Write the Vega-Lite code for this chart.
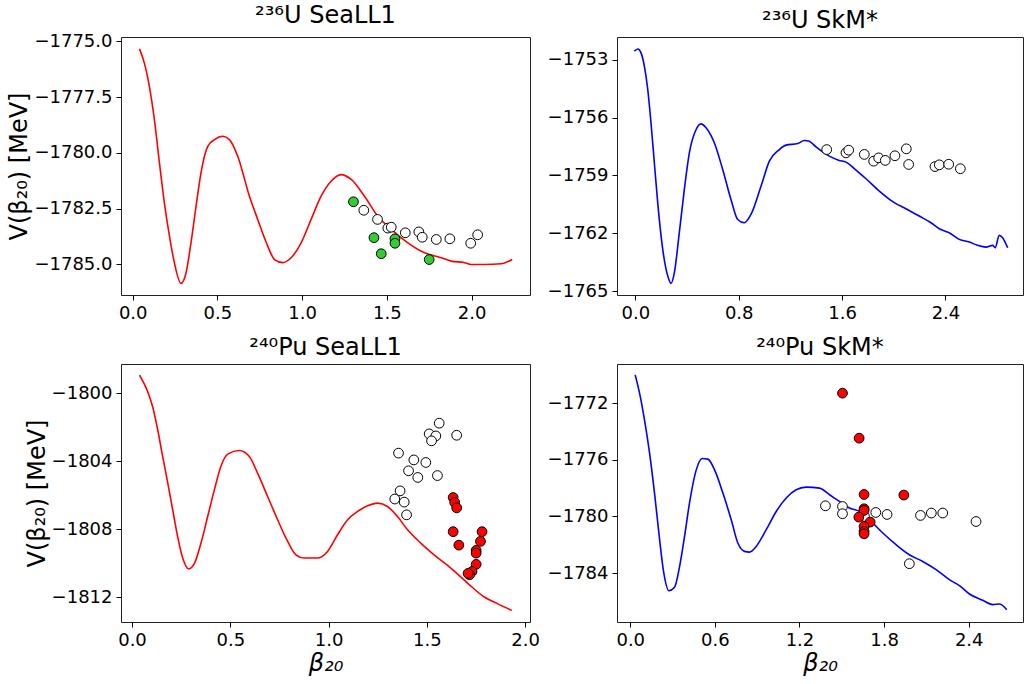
{
  "$schema": "https://vega.github.io/schema/vega-lite/v6.json",
  "background": "white",
  "padding": {"left": 7, "top": 3, "right": 0, "bottom": 0},
  "bounds": "flush",
  "columns": 2,
  "spacing": {"row": 69, "column": 87},
  "config": {
    "font": "DejaVu Sans",
    "view": {"stroke": "#222222", "strokeWidth": 1},
    "axis": {"grid": false, "domain": false, "tickColor": "black", "tickSize": 5, "tickWidth": 1, "labelFontSize": 18, "labelColor": "black", "labelFont": "DejaVu Sans", "titleFont": "DejaVu Sans", "titleFontSize": 24, "titleFontWeight": "normal", "titleColor": "black", "labelPadding": 4, "titlePadding": 2, "labelFlush": false, "labelOverlap": false, "labelExpr": "replace(datum.label, '-', '−')"},
    "title": {"fontSize": 24, "fontWeight": "normal", "font": "DejaVu Sans", "color": "black", "offset": 0},
    "legend": {"disable": true}
  },
  "datasets": {
    "l1": [
      {"b":0.04,"v":-1775.33},{"b":0.069,"v":-1775.97},{"b":0.098,"v":-1777.0},{"b":0.128,"v":-1778.5},{"b":0.158,"v":-1780.45},{"b":0.187,"v":-1782.24},{"b":0.217,"v":-1783.73},{"b":0.246,"v":-1784.92},{"b":0.285,"v":-1785.85},{"b":0.315,"v":-1785.37},{"b":0.344,"v":-1784.03},{"b":0.374,"v":-1782.39},{"b":0.403,"v":-1780.89},{"b":0.443,"v":-1779.7},{"b":0.483,"v":-1779.4},{"b":0.532,"v":-1779.25},{"b":0.571,"v":-1779.4},{"b":0.62,"v":-1780.15},{"b":0.689,"v":-1781.94},{"b":0.738,"v":-1782.98},{"b":0.797,"v":-1784.18},{"b":0.837,"v":-1784.78},{"b":0.886,"v":-1784.92},{"b":0.935,"v":-1784.7},{"b":0.994,"v":-1784.03},{"b":1.053,"v":-1782.98},{"b":1.112,"v":-1781.94},{"b":1.171,"v":-1781.27},{"b":1.23,"v":-1780.97},{"b":1.29,"v":-1781.19},{"b":1.368,"v":-1781.94},{"b":1.447,"v":-1782.84},{"b":1.526,"v":-1783.43},{"b":1.624,"v":-1784.03},{"b":1.723,"v":-1784.48},{"b":1.821,"v":-1784.7},{"b":1.88,"v":-1784.85},{"b":1.959,"v":-1784.92},{"b":1.998,"v":-1785.0},{"b":2.077,"v":-1785.0},{"b":2.175,"v":-1784.97},{"b":2.24,"v":-1784.78}
    ],
    "p1": [
      {"b":1.303,"v":-1782.19,"t":"green"},{"b":1.424,"v":-1783.8,"t":"green"},{"b":1.467,"v":-1784.52,"t":"green"},{"b":1.548,"v":-1783.85,"t":"green"},{"b":1.548,"v":-1784.05,"t":"green"},{"b":1.75,"v":-1784.78,"t":"green"},
      {"b":1.364,"v":-1782.57,"t":"open"},{"b":1.445,"v":-1782.98,"t":"open"},{"b":1.506,"v":-1783.37,"t":"open"},{"b":1.526,"v":-1783.33,"t":"open"},{"b":1.609,"v":-1783.58,"t":"open"},{"b":1.689,"v":-1783.54,"t":"open"},{"b":1.709,"v":-1783.78,"t":"open"},{"b":1.792,"v":-1783.88,"t":"open"},{"b":1.872,"v":-1783.85,"t":"open"},{"b":1.995,"v":-1784.05,"t":"open"},{"b":2.036,"v":-1783.67,"t":"open"}
    ],
    "l2": [
      {"b":-0.008,"v":-1752.57},{"b":0.019,"v":-1752.45},{"b":0.044,"v":-1752.65},{"b":0.07,"v":-1753.35},{"b":0.096,"v":-1754.55},{"b":0.121,"v":-1756.27},{"b":0.147,"v":-1758.34},{"b":0.173,"v":-1760.41},{"b":0.212,"v":-1762.83},{"b":0.251,"v":-1764.21},{"b":0.276,"v":-1764.59},{"b":0.302,"v":-1764.03},{"b":0.34,"v":-1761.97},{"b":0.379,"v":-1759.73},{"b":0.418,"v":-1757.83},{"b":0.47,"v":-1756.62},{"b":0.508,"v":-1756.33},{"b":0.547,"v":-1756.53},{"b":0.611,"v":-1757.31},{"b":0.676,"v":-1758.69},{"b":0.74,"v":-1760.24},{"b":0.792,"v":-1761.28},{"b":0.843,"v":-1761.45},{"b":0.895,"v":-1761.02},{"b":0.973,"v":-1759.55},{"b":1.037,"v":-1758.26},{"b":1.114,"v":-1757.66},{"b":1.166,"v":-1757.43},{"b":1.256,"v":-1757.35},{"b":1.308,"v":-1757.19},{"b":1.346,"v":-1757.23},{"b":1.398,"v":-1757.52},{"b":1.501,"v":-1758.0},{"b":1.578,"v":-1758.22},{"b":1.63,"v":-1758.31},{"b":1.708,"v":-1758.72},{"b":1.785,"v":-1759.17},{"b":1.888,"v":-1759.81},{"b":2.004,"v":-1760.41},{"b":2.094,"v":-1760.72},{"b":2.197,"v":-1761.1},{"b":2.288,"v":-1761.45},{"b":2.352,"v":-1761.76},{"b":2.429,"v":-1761.97},{"b":2.507,"v":-1762.31},{"b":2.584,"v":-1762.45},{"b":2.649,"v":-1762.62},{"b":2.713,"v":-1762.71},{"b":2.765,"v":-1762.62},{"b":2.785,"v":-1762.74},{"b":2.816,"v":-1762.1},{"b":2.842,"v":-1762.22},{"b":2.881,"v":-1762.74}
    ],
    "p2": [
      {"b":1.481,"v":-1757.66,"t":"open"},{"b":1.63,"v":-1757.83,"t":"open"},{"b":1.651,"v":-1757.69,"t":"open"},{"b":1.772,"v":-1757.91,"t":"open"},{"b":1.844,"v":-1758.26,"t":"open"},{"b":1.883,"v":-1758.09,"t":"open"},{"b":1.934,"v":-1758.22,"t":"open"},{"b":2.009,"v":-1757.98,"t":"open"},{"b":2.097,"v":-1757.62,"t":"open"},{"b":2.115,"v":-1758.43,"t":"open"},{"b":2.319,"v":-1758.54,"t":"open"},{"b":2.352,"v":-1758.45,"t":"open"},{"b":2.425,"v":-1758.42,"t":"open"},{"b":2.515,"v":-1758.65,"t":"open"}
    ],
    "l3": [
      {"b":0.038,"v":-1798.93},{"b":0.08,"v":-1799.91},{"b":0.105,"v":-1800.79},{"b":0.131,"v":-1802.16},{"b":0.156,"v":-1803.72},{"b":0.182,"v":-1805.28},{"b":0.207,"v":-1806.85},{"b":0.232,"v":-1808.42},{"b":0.258,"v":-1809.69},{"b":0.288,"v":-1810.33},{"b":0.317,"v":-1810.02},{"b":0.351,"v":-1808.81},{"b":0.385,"v":-1807.25},{"b":0.419,"v":-1805.68},{"b":0.452,"v":-1804.31},{"b":0.487,"v":-1803.58},{"b":0.546,"v":-1803.37},{"b":0.597,"v":-1803.72},{"b":0.639,"v":-1804.7},{"b":0.69,"v":-1806.07},{"b":0.741,"v":-1807.44},{"b":0.792,"v":-1808.71},{"b":0.834,"v":-1809.5},{"b":0.876,"v":-1809.69},{"b":0.944,"v":-1809.69},{"b":0.995,"v":-1809.3},{"b":1.046,"v":-1808.32},{"b":1.097,"v":-1807.44},{"b":1.148,"v":-1806.95},{"b":1.199,"v":-1806.62},{"b":1.249,"v":-1806.46},{"b":1.3,"v":-1806.66},{"b":1.351,"v":-1807.25},{"b":1.402,"v":-1808.03},{"b":1.469,"v":-1808.81},{"b":1.537,"v":-1809.5},{"b":1.622,"v":-1810.28},{"b":1.707,"v":-1811.16},{"b":1.792,"v":-1811.98},{"b":1.859,"v":-1812.37},{"b":1.932,"v":-1812.77}
    ],
    "p3": [
      {"b":1.356,"v":-1803.52,"t":"open"},{"b":1.434,"v":-1803.92,"t":"open"},{"b":1.495,"v":-1804.07,"t":"open"},{"b":1.407,"v":-1804.56,"t":"open"},{"b":1.454,"v":-1804.95,"t":"open"},{"b":1.554,"v":-1804.84,"t":"open"},{"b":1.512,"v":-1802.39,"t":"open"},{"b":1.546,"v":-1802.51,"t":"open"},{"b":1.524,"v":-1802.8,"t":"open"},{"b":1.563,"v":-1801.76,"t":"open"},{"b":1.652,"v":-1802.47,"t":"open"},{"b":1.364,"v":-1805.74,"t":"open"},{"b":1.337,"v":-1806.22,"t":"open"},{"b":1.385,"v":-1806.4,"t":"open"},{"b":1.397,"v":-1807.15,"t":"open"},
      {"b":1.634,"v":-1806.13,"t":"red"},{"b":1.642,"v":-1806.42,"t":"red"},{"b":1.652,"v":-1806.74,"t":"red"},{"b":1.634,"v":-1808.14,"t":"red"},{"b":1.663,"v":-1808.93,"t":"red"},{"b":1.781,"v":-1808.14,"t":"red"},{"b":1.773,"v":-1808.71,"t":"red"},{"b":1.751,"v":-1809.24,"t":"red"},{"b":1.751,"v":-1809.4,"t":"red"},{"b":1.751,"v":-1810.06,"t":"red"},{"b":1.73,"v":-1810.48,"t":"red"},{"b":1.718,"v":-1810.67,"t":"red"},{"b":1.71,"v":-1810.59,"t":"red"}
    ],
    "l4": [
      {"b":0.035,"v":-1770.0},{"b":0.071,"v":-1771.53},{"b":0.101,"v":-1773.18},{"b":0.137,"v":-1775.53},{"b":0.172,"v":-1778.35},{"b":0.203,"v":-1781.17},{"b":0.236,"v":-1783.88},{"b":0.274,"v":-1785.25},{"b":0.314,"v":-1785.01},{"b":0.35,"v":-1783.53},{"b":0.385,"v":-1781.41},{"b":0.42,"v":-1779.06},{"b":0.468,"v":-1776.71},{"b":0.51,"v":-1775.91},{"b":0.55,"v":-1775.95},{"b":0.598,"v":-1776.71},{"b":0.657,"v":-1778.35},{"b":0.716,"v":-1780.24},{"b":0.763,"v":-1781.88},{"b":0.81,"v":-1782.47},{"b":0.846,"v":-1782.52},{"b":0.893,"v":-1782.12},{"b":0.964,"v":-1780.94},{"b":1.035,"v":-1779.65},{"b":1.106,"v":-1778.7},{"b":1.176,"v":-1778.12},{"b":1.247,"v":-1777.93},{"b":1.342,"v":-1778.0},{"b":1.413,"v":-1778.47},{"b":1.483,"v":-1778.94},{"b":1.554,"v":-1779.41},{"b":1.625,"v":-1779.65},{"b":1.696,"v":-1780.24},{"b":1.791,"v":-1781.17},{"b":1.885,"v":-1782.0},{"b":1.979,"v":-1782.71},{"b":2.074,"v":-1783.18},{"b":2.169,"v":-1783.76},{"b":2.263,"v":-1784.47},{"b":2.334,"v":-1784.89},{"b":2.405,"v":-1785.48},{"b":2.5,"v":-1785.93},{"b":2.57,"v":-1786.23},{"b":2.617,"v":-1786.19},{"b":2.67,"v":-1786.59}
    ],
    "p4": [
      {"b":1.384,"v":-1779.25,"t":"open"},{"b":1.505,"v":-1779.3,"t":"open"},{"b":1.505,"v":-1779.81,"t":"open"},{"b":1.741,"v":-1779.72,"t":"open"},{"b":1.821,"v":-1779.86,"t":"open"},{"b":2.058,"v":-1779.93,"t":"open"},{"b":2.135,"v":-1779.76,"t":"open"},{"b":2.216,"v":-1779.76,"t":"open"},{"b":2.452,"v":-1780.36,"t":"open"},{"b":1.979,"v":-1783.34,"t":"open"},{"b":1.661,"v":-1780.0,"t":"open"},
      {"b":1.505,"v":-1771.29,"t":"red"},{"b":1.623,"v":-1774.47,"t":"red"},{"b":1.658,"v":-1778.45,"t":"red"},{"b":1.94,"v":-1778.49,"t":"red"},{"b":1.658,"v":-1779.46,"t":"red"},{"b":1.658,"v":-1779.58,"t":"red"},{"b":1.621,"v":-1780.05,"t":"red"},{"b":1.701,"v":-1780.4,"t":"red"},{"b":1.658,"v":-1780.71,"t":"red"},{"b":1.658,"v":-1781.06,"t":"red"},{"b":1.658,"v":-1781.23,"t":"red"}
    ]
  },
  "concat": [
    {
      "width": 409, "height": 258,
      "title": {"text": "²³⁶U SeaLL1"},
      "layer": [
        {"data": {"name": "l1"}, "mark": {"type": "line", "color": "#ff0000", "strokeWidth": 1.6, "interpolate": "monotone"},
         "encoding": {
           "x": {"field": "b", "type": "quantitative", "scale": {"domain": [-0.069, 2.345], "nice": false, "zero": false}, "axis": {"values": [0, 0.5, 1, 1.5, 2], "format": ".1f", "title": null}},
           "y": {"field": "v", "type": "quantitative", "scale": {"domain": [-1786.37, -1774.8], "nice": false, "zero": false}, "axis": {"values": [-1775, -1777.5, -1780, -1782.5, -1785], "format": ".1f", "title": "V(β₂₀) [MeV]"}}
         }},
        {"data": {"name": "p1"}, "mark": {"type": "point", "filled": true, "shape": "circle", "size": 95, "stroke": "black", "strokeWidth": 1, "opacity": 1},
         "encoding": {
           "x": {"field": "b", "type": "quantitative"},
           "y": {"field": "v", "type": "quantitative"},
           "fill": {"field": "t", "type": "nominal", "scale": {"domain": ["open", "green", "red"], "range": ["white", "#32cd32", "#ff0000"]}, "legend": null}
         }}
      ]
    },
    {
      "width": 406, "height": 258,
      "title": {"text": "²³⁶U SkM*"},
      "layer": [
        {"data": {"name": "l2"}, "mark": {"type": "line", "color": "#0000ff", "strokeWidth": 1.6, "interpolate": "monotone"},
         "encoding": {
           "x": {"field": "b", "type": "quantitative", "scale": {"domain": [-0.142, 3.0], "nice": false, "zero": false}, "axis": {"values": [0, 0.8, 1.6, 2.4], "format": ".1f", "title": null}},
           "y": {"field": "v", "type": "quantitative", "scale": {"domain": [-1765.19, -1751.83], "nice": false, "zero": false}, "axis": {"values": [-1753, -1756, -1759, -1762, -1765], "format": "d", "title": null}}
         }},
        {"data": {"name": "p2"}, "mark": {"type": "point", "filled": true, "shape": "circle", "size": 95, "stroke": "black", "strokeWidth": 1, "opacity": 1},
         "encoding": {
           "x": {"field": "b", "type": "quantitative"},
           "y": {"field": "v", "type": "quantitative"},
           "fill": {"field": "t", "type": "nominal", "scale": {"domain": ["open", "green", "red"], "range": ["white", "#32cd32", "#ff0000"]}, "legend": null}
         }}
      ]
    },
    {
      "width": 409, "height": 258,
      "title": {"text": "²⁴⁰Pu SeaLL1"},
      "layer": [
        {"data": {"name": "l3"}, "mark": {"type": "line", "color": "#ff0000", "strokeWidth": 1.6, "interpolate": "monotone"},
         "encoding": {
           "x": {"field": "b", "type": "quantitative", "scale": {"domain": [-0.056, 2.025], "nice": false, "zero": false}, "axis": {"values": [0, 0.5, 1, 1.5, 2], "format": ".1f", "title": "β₂₀", "titleFontStyle": "italic"}},
           "y": {"field": "v", "type": "quantitative", "scale": {"domain": [-1813.45, -1798.28], "nice": false, "zero": false}, "axis": {"values": [-1800, -1804, -1808, -1812], "format": "d", "title": "V(β₂₀) [MeV]"}}
         }},
        {"data": {"name": "p3"}, "mark": {"type": "point", "filled": true, "shape": "circle", "size": 95, "stroke": "black", "strokeWidth": 1, "opacity": 1},
         "encoding": {
           "x": {"field": "b", "type": "quantitative"},
           "y": {"field": "v", "type": "quantitative"},
           "fill": {"field": "t", "type": "nominal", "scale": {"domain": ["open", "green", "red"], "range": ["white", "#32cd32", "#ff0000"]}, "legend": null}
         }}
      ]
    },
    {
      "width": 406, "height": 258,
      "title": {"text": "²⁴⁰Pu SkM*"},
      "layer": [
        {"data": {"name": "l4"}, "mark": {"type": "line", "color": "#0000ff", "strokeWidth": 1.6, "interpolate": "monotone"},
         "encoding": {
           "x": {"field": "b", "type": "quantitative", "scale": {"domain": [-0.094, 2.785], "nice": false, "zero": false}, "axis": {"values": [0, 0.6, 1.2, 1.8, 2.4], "format": ".1f", "title": "β₂₀", "titleFontStyle": "italic"}},
           "y": {"field": "v", "type": "quantitative", "scale": {"domain": [-1787.46, -1769.23], "nice": false, "zero": false}, "axis": {"values": [-1772, -1776, -1780, -1784], "format": "d", "title": null}}
         }},
        {"data": {"name": "p4"}, "mark": {"type": "point", "filled": true, "shape": "circle", "size": 95, "stroke": "black", "strokeWidth": 1, "opacity": 1},
         "encoding": {
           "x": {"field": "b", "type": "quantitative"},
           "y": {"field": "v", "type": "quantitative"},
           "fill": {"field": "t", "type": "nominal", "scale": {"domain": ["open", "green", "red"], "range": ["white", "#32cd32", "#ff0000"]}, "legend": null}
         }}
      ]
    }
  ]
}
